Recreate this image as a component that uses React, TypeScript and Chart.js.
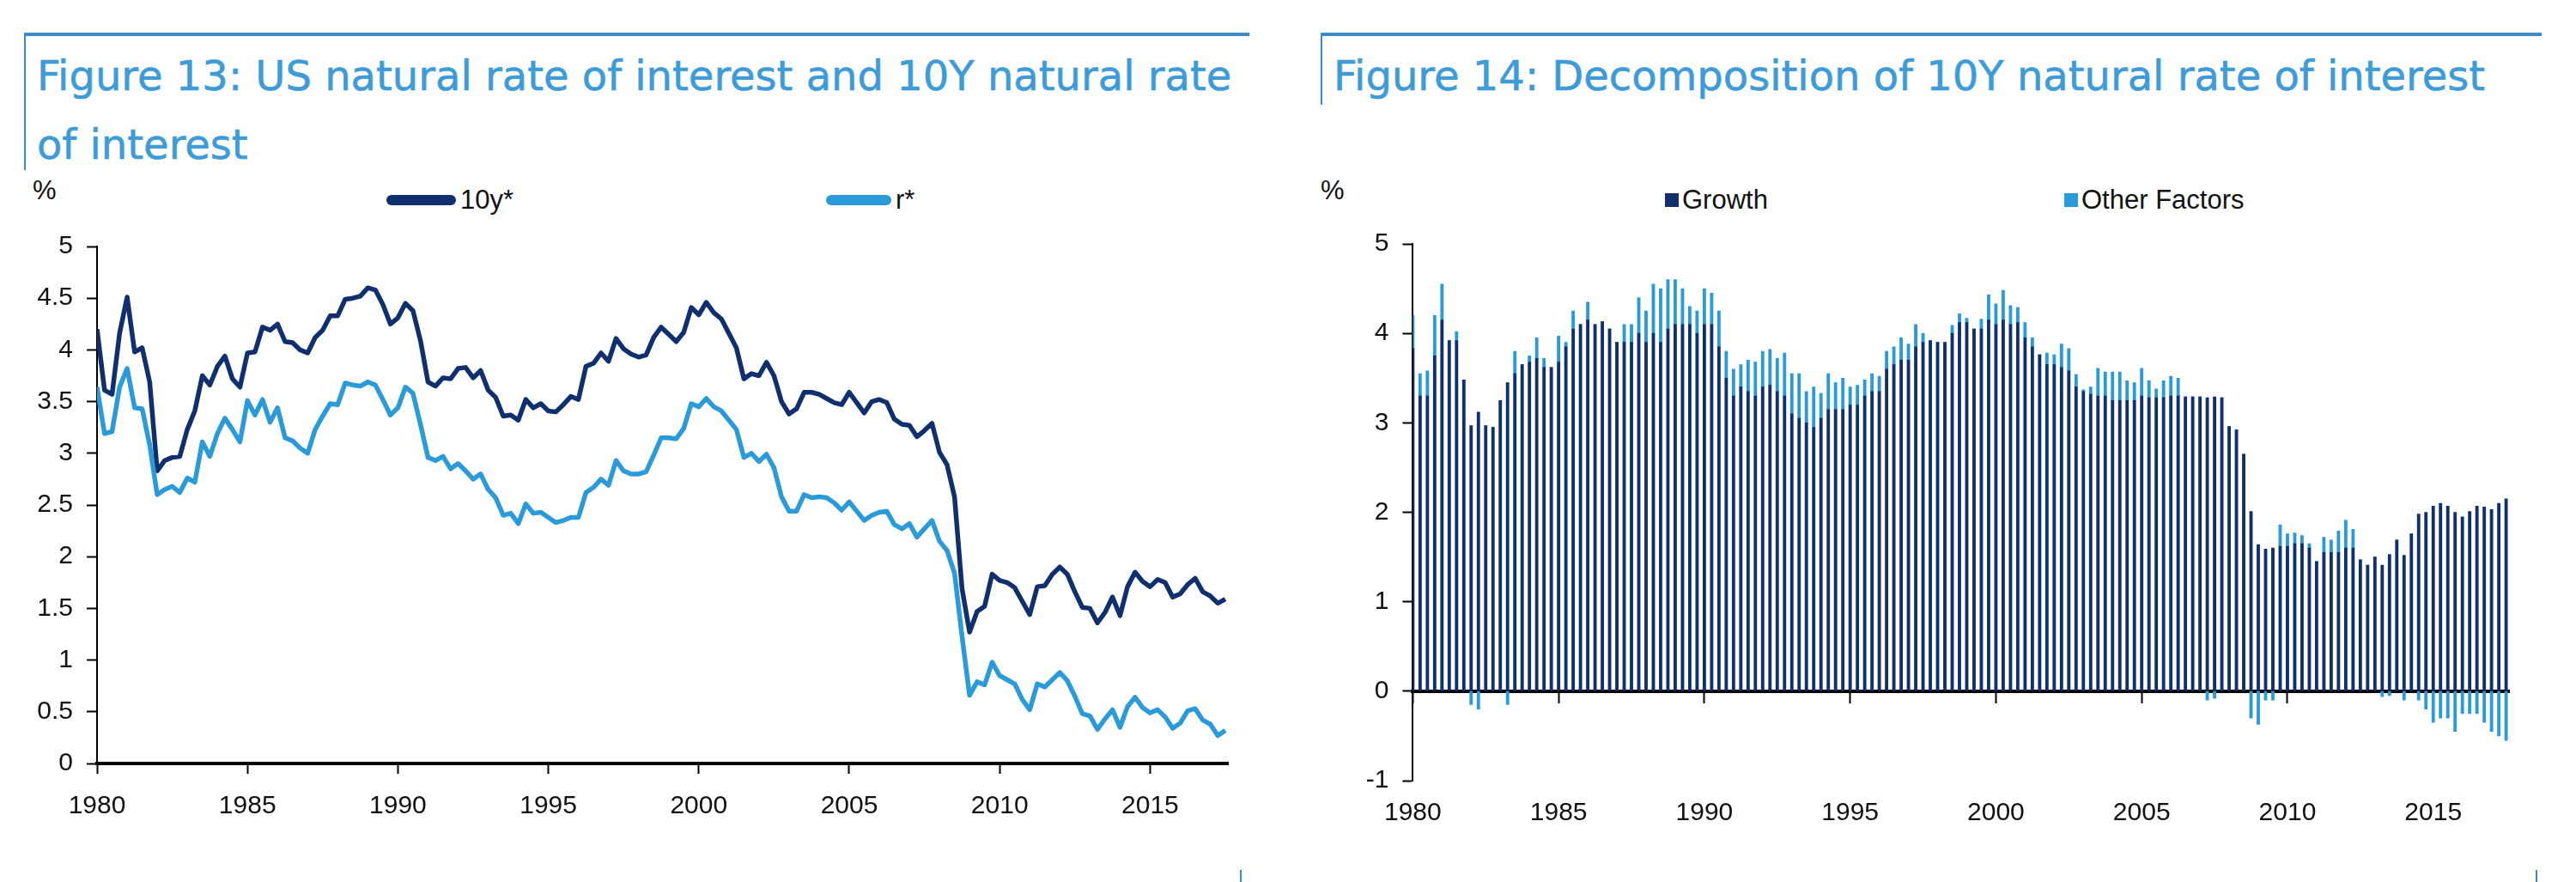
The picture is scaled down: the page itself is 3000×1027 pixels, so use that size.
import React, { useEffect, useRef } from "react";
import { Chart, registerables } from "chart.js";

Chart.register(...registerables);

// ---------------- data (quarterly, 1980Q1 .. 2017Q3) ----------------
const FIRST_YEAR = 1980;
const QUARTER_STEP = 0.25;

// Figure 13: 10Y natural rate of interest (10y*)
const TEN_Y_STAR: number[] = [
  4.20, 3.61, 3.57, 4.16, 4.51, 3.98, 4.02, 3.69, 2.83, 2.93,
  2.96, 2.97, 3.23, 3.41, 3.75, 3.66, 3.84, 3.94, 3.72, 3.64,
  3.97, 3.98, 4.22, 4.19, 4.25, 4.08, 4.07, 4.00, 3.97, 4.12,
  4.19, 4.33, 4.33, 4.49, 4.50, 4.52, 4.60, 4.58, 4.44, 4.25,
  4.31, 4.45, 4.38, 4.09, 3.69, 3.65, 3.73, 3.72, 3.82, 3.83,
  3.73, 3.80, 3.61, 3.54, 3.36, 3.37, 3.32, 3.52, 3.44, 3.48,
  3.41, 3.40, 3.47, 3.55, 3.52, 3.84, 3.87, 3.97, 3.89, 4.11,
  4.01, 3.96, 3.93, 3.95, 4.12, 4.22, 4.15, 4.08, 4.17, 4.41,
  4.34, 4.46, 4.36, 4.30, 4.16, 4.02, 3.72, 3.77, 3.75, 3.88,
  3.75, 3.50, 3.38, 3.43, 3.59, 3.59, 3.57, 3.53, 3.49, 3.47,
  3.59, 3.49, 3.39, 3.50, 3.52, 3.49, 3.33, 3.28, 3.27, 3.16,
  3.22, 3.29, 3.01, 2.89, 2.58, 1.69, 1.27, 1.47, 1.52, 1.83,
  1.77, 1.75, 1.70, 1.57, 1.44, 1.71, 1.72, 1.83, 1.90, 1.83,
  1.66, 1.51, 1.50, 1.36, 1.46, 1.61, 1.43, 1.71, 1.85, 1.76,
  1.71, 1.78, 1.75, 1.61, 1.64, 1.73, 1.79, 1.66, 1.62, 1.55,
  1.59,
];

// Figure 13: natural rate of interest (r*)
const R_STAR: number[] = [
  3.64, 3.19, 3.21, 3.64, 3.82, 3.44, 3.43, 3.08, 2.60, 2.65,
  2.68, 2.62, 2.76, 2.72, 3.11, 2.97, 3.19, 3.34, 3.23, 3.11,
  3.51, 3.37, 3.52, 3.30, 3.44, 3.15, 3.12, 3.05, 3.00, 3.23,
  3.36, 3.48, 3.47, 3.68, 3.66, 3.65, 3.69, 3.66, 3.52, 3.37,
  3.44, 3.64, 3.58, 3.28, 2.96, 2.93, 2.97, 2.85, 2.90, 2.83,
  2.75, 2.80, 2.65, 2.57, 2.40, 2.42, 2.32, 2.51, 2.42, 2.43,
  2.38, 2.33, 2.35, 2.38, 2.38, 2.62, 2.67, 2.75, 2.69, 2.93,
  2.83, 2.80, 2.80, 2.82, 2.98, 3.15, 3.15, 3.14, 3.24, 3.48,
  3.45, 3.53, 3.45, 3.41, 3.32, 3.23, 2.96, 3.00, 2.92, 2.99,
  2.86, 2.58, 2.44, 2.44, 2.60, 2.57, 2.58, 2.57, 2.52, 2.45,
  2.53, 2.44, 2.35, 2.40, 2.43, 2.44, 2.31, 2.27, 2.32, 2.19,
  2.27, 2.35, 2.15, 2.06, 1.84, 1.23, 0.66, 0.79, 0.76, 0.98,
  0.85, 0.81, 0.77, 0.62, 0.52, 0.77, 0.74, 0.81, 0.88, 0.80,
  0.65, 0.48, 0.46, 0.33, 0.43, 0.52, 0.35, 0.55, 0.64, 0.54,
  0.49, 0.52, 0.45, 0.34, 0.39, 0.51, 0.53, 0.42, 0.38, 0.27,
  0.32,
];

// Figure 14: decomposition of 10y* — Growth
const GROWTH: number[] = [
  3.83, 3.30, 3.30, 3.75, 4.15, 3.92, 3.92, 3.48, 2.97, 3.12,
  2.97, 2.95, 3.25, 3.45, 3.55, 3.65, 3.68, 3.72, 3.62, 3.62,
  3.68, 3.85, 4.05, 4.10, 4.15, 4.10, 4.13, 4.05, 3.90, 3.90,
  3.90, 4.00, 3.90, 4.00, 3.90, 4.05, 4.10, 4.10, 4.10, 4.00,
  4.10, 4.10, 3.85, 3.50, 3.30, 3.40, 3.35, 3.30, 3.40, 3.42,
  3.35, 3.30, 3.10, 3.05, 3.00, 2.95, 3.05, 3.15, 3.15, 3.15,
  3.20, 3.20, 3.30, 3.35, 3.35, 3.60, 3.65, 3.70, 3.70, 3.85,
  3.90, 3.92, 3.90, 3.90, 4.00, 4.12, 4.12, 4.05, 4.05, 4.15,
  4.10, 4.15, 4.10, 4.12, 3.95, 3.85, 3.76, 3.65, 3.65, 3.62,
  3.58, 3.40, 3.35, 3.32, 3.30, 3.30, 3.25, 3.25, 3.25, 3.25,
  3.30, 3.28, 3.28, 3.28, 3.30, 3.30, 3.29, 3.29, 3.29, 3.28,
  3.29, 3.28, 2.96, 2.92, 2.65, 2.01, 1.64, 1.59, 1.60, 1.62,
  1.62, 1.65, 1.65, 1.60, 1.45, 1.55, 1.55, 1.55, 1.60, 1.60,
  1.47, 1.41, 1.50, 1.41, 1.53, 1.69, 1.52, 1.76, 1.98, 2.00,
  2.07, 2.10, 2.07, 2.00, 1.95, 2.01, 2.07, 2.06, 2.03, 2.10,
  2.15,
];

// Figure 14: decomposition of 10y* — Other Factors
const OTHER_FACTORS: number[] = [
  0.37, 0.25, 0.28, 0.45, 0.40, 0.00, 0.10, 0.00, -0.15, -0.20,
  0.00, 0.00, 0.00, -0.15, 0.25, 0.00, 0.07, 0.23, 0.10, 0.00,
  0.29, 0.05, 0.20, 0.00, 0.20, 0.00, 0.00, 0.00, 0.00, 0.20,
  0.20, 0.40, 0.35, 0.55, 0.60, 0.55, 0.50, 0.40, 0.20, 0.25,
  0.40, 0.35, 0.40, 0.30, 0.30, 0.25, 0.35, 0.38, 0.40, 0.40,
  0.37, 0.48, 0.45, 0.50, 0.35, 0.45, 0.28, 0.40, 0.30, 0.35,
  0.20, 0.22, 0.18, 0.20, 0.17, 0.20, 0.20, 0.25, 0.18, 0.25,
  0.10, 0.00, 0.00, 0.00, 0.09, 0.10, 0.05, 0.00, 0.11, 0.28,
  0.23, 0.33, 0.21, 0.17, 0.17, 0.10, 0.00, 0.13, 0.11, 0.26,
  0.25, 0.14, 0.02, 0.08, 0.31, 0.27, 0.32, 0.32, 0.22, 0.20,
  0.31, 0.19, 0.10, 0.19, 0.22, 0.20, 0.00, 0.00, 0.00, -0.10,
  -0.08, 0.00, 0.00, 0.00, 0.00, -0.30, -0.37, -0.10, -0.10, 0.24,
  0.14, 0.12, 0.09, 0.05, 0.00, 0.17, 0.14, 0.24, 0.31, 0.21,
  0.00, 0.00, 0.00, -0.06, -0.05, 0.00, -0.10, 0.00, -0.10, -0.20,
  -0.35, -0.30, -0.30, -0.45, -0.25, -0.25, -0.25, -0.35, -0.45, -0.50,
  -0.55,
];

const X_TICK_YEARS: number[] = [1980, 1985, 1990, 1995, 2000, 2005, 2010, 2015];
const LEFT_Y_TICKS: number[] = [0, 0.5, 1, 1.5, 2, 2.5, 3, 3.5, 4, 4.5, 5];
const RIGHT_Y_TICKS: number[] = [-1, 0, 1, 2, 3, 4, 5];

// ---------------- styling ----------------
const NAVY = "#0f2f6e";
const LIGHT = "#2b9ad8";
const RULE = "#3b8bc6";
const TITLE_COLOR = "#3d9bd8";
const TEXT_FONT = "'Liberation Sans', Arial, Helvetica, sans-serif";
const TITLE_FONT = "'DejaVu Sans', Verdana, sans-serif";
const TICK_SIZE = 30;

const quarterPoints = (values: number[]) =>
  values.map((v, i) => ({ x: FIRST_YEAR + i * QUARTER_STEP, y: v }));

const tickFont = { family: TEXT_FONT, size: TICK_SIZE, weight: "normal" as const };

function xAxis(extra: any) {
  return {
    type: "linear",
    min: 1980,
    max: 2017.6,
    offset: false,
    afterBuildTicks: (s: any) => {
      s.ticks = X_TICK_YEARS.map((v) => ({ value: v }));
    },
    grid: {
      display: true,
      drawOnChartArea: false,
      drawTicks: true,
      tickLength: 12,
      tickWidth: 2,
      tickColor: "#000",
      color: "#000",
      offset: false,
    },
    border: { display: true, color: "#000", width: 4 },
    ticks: {
      color: "#111",
      font: tickFont,
      maxRotation: 0,
      minRotation: 0,
      autoSkip: false,
      callback: (v: any) => String(v),
      ...extra.ticks,
    },
    ...extra.rest,
  };
}

function yAxis(min: number, max: number, list: number[], width: number) {
  return {
    type: "linear",
    min,
    max,
    afterBuildTicks: (s: any) => {
      s.ticks = list.map((v) => ({ value: v }));
    },
    afterFit: (s: any) => {
      s.width = width;
    },
    grid: {
      display: true,
      drawOnChartArea: false,
      drawTicks: true,
      tickLength: 12,
      tickWidth: 2,
      tickColor: "#000",
      color: "#000",
    },
    border: { display: true, color: "#000", width: 2 },
    ticks: {
      color: "#111",
      font: tickFont,
      padding: 16,
      callback: (v: any) => String(v),
    },
  };
}

function LeftChart() {
  const ref = useRef<HTMLCanvasElement | null>(null);
  useEffect(() => {
    if (!ref.current) return;
    const chart = new Chart(ref.current, {
      type: "line",
      data: {
        datasets: [
          {
            label: "10y*",
            data: quarterPoints(TEN_Y_STAR),
            borderColor: NAVY,
            backgroundColor: NAVY,
            borderWidth: 5.5,
            pointRadius: 0,
            tension: 0,
            borderJoinStyle: "round",
            order: 1,
          },
          {
            label: "r*",
            data: quarterPoints(R_STAR),
            borderColor: LIGHT,
            backgroundColor: LIGHT,
            borderWidth: 5.5,
            pointRadius: 0,
            tension: 0,
            borderJoinStyle: "round",
            order: 0,
          },
        ],
      },
      options: {
        responsive: false,
        animation: false,
        devicePixelRatio: 1,
        layout: { padding: { left: 0, right: 39.5, top: 37, bottom: 0 } },
        plugins: { legend: { display: false }, tooltip: { enabled: false } },
        scales: {
          x: xAxis({
            ticks: { padding: 20 },
            rest: {
              afterFit: (s: any) => {
                s.height = 121;
              },
            },
          }),
          y: yAxis(0, 5, LEFT_Y_TICKS, 113),
        },
      } as any,
    });
    return () => chart.destroy();
  }, []);
  return (
    <canvas
      ref={ref}
      width={1470}
      height={760}
      style={{ position: "absolute", left: 0, top: 250, width: 1470, height: 760 }}
    />
  );
}

function RightChart() {
  const ref = useRef<HTMLCanvasElement | null>(null);
  useEffect(() => {
    if (!ref.current) return;
    const chart = new Chart(ref.current, {
      type: "bar",
      data: {
        datasets: [
          {
            label: "Growth",
            data: quarterPoints(GROWTH),
            backgroundColor: NAVY,
            borderWidth: 0,
            barThickness: 3.2,
            stack: "decomp",
          },
          {
            label: "Other Factors",
            data: quarterPoints(OTHER_FACTORS),
            backgroundColor: LIGHT,
            borderWidth: 0,
            barThickness: 3.2,
            stack: "decomp",
          },
        ],
      },
      options: {
        responsive: false,
        animation: false,
        devicePixelRatio: 1,
        layout: { padding: { left: 0, right: 42.4, top: 34, bottom: 101 } },
        plugins: { legend: { display: false }, tooltip: { enabled: false } },
        scales: {
          x: xAxis({
            ticks: { padding: 112 },
            rest: { position: { y: 0 }, stacked: true },
          }),
          y: { ...yAxis(-1, 5, RIGHT_Y_TICKS, 116), stacked: true },
        },
      } as any,
    });
    return () => chart.destroy();
  }, []);
  return (
    <canvas
      ref={ref}
      width={1480}
      height={760}
      style={{ position: "absolute", left: 1500, top: 250, width: 1480, height: 760 }}
    />
  );
}

const abs = (s: React.CSSProperties): React.CSSProperties => ({ position: "absolute", ...s });

const textStyle = (left: number, top: number): React.CSSProperties =>
  abs({
    left,
    top,
    fontFamily: TEXT_FONT,
    fontSize: 31,
    lineHeight: "31px",
    color: "#111",
    whiteSpace: "nowrap",
  });

const titleStyle = (left: number): React.CSSProperties =>
  abs({
    left,
    top: 48,
    fontFamily: TITLE_FONT,
    fontSize: 48,
    lineHeight: "80px",
    color: TITLE_COLOR,
    whiteSpace: "nowrap",
    WebkitTextStroke: `0.6px ${TITLE_COLOR}`,
  } as React.CSSProperties);

export default function App() {
  return (
    <div
      style={{
        position: "absolute",
        left: 0,
        top: 0,
        width: 3000,
        height: 1027,
        background: "#fff",
        overflow: "hidden",
      }}
    >
      {/* Left panel frame */}
      <div style={abs({ left: 28, top: 38, width: 1427, height: 4, background: RULE })} />
      <div style={abs({ left: 28, top: 38, width: 2, height: 160, background: RULE })} />
      <div style={titleStyle(43)}>
        Figure 13: US natural rate of interest and 10Y natural rate
        <br />
        of interest
      </div>
      <div style={textStyle(38, 206)}>%</div>
      <div style={abs({ left: 450, top: 227, width: 81, height: 12, background: NAVY, borderRadius: 6 })} />
      <div style={textStyle(536, 217)}>10y*</div>
      <div style={abs({ left: 962, top: 227, width: 76, height: 12, background: LIGHT, borderRadius: 6 })} />
      <div style={textStyle(1043, 217)}>r*</div>
      <div style={abs({ left: 1444, top: 1013, width: 2, height: 14, background: RULE })} />

      {/* Right panel frame */}
      <div style={abs({ left: 1538, top: 38, width: 1422, height: 4, background: RULE })} />
      <div style={abs({ left: 1538, top: 38, width: 2, height: 84, background: RULE })} />
      <div style={titleStyle(1553)}>Figure 14: Decomposition of 10Y natural rate of interest</div>
      <div style={textStyle(1538, 206)}>%</div>
      <div style={abs({ left: 1939, top: 225, width: 16, height: 16, background: NAVY })} />
      <div style={textStyle(1959, 217)}>Growth</div>
      <div style={abs({ left: 2404, top: 225, width: 16, height: 16, background: LIGHT })} />
      <div style={textStyle(2424, 217)}>Other Factors</div>
      <div style={abs({ left: 2953, top: 1013, width: 2, height: 14, background: RULE })} />

      <LeftChart />
      <RightChart />
    </div>
  );
}
